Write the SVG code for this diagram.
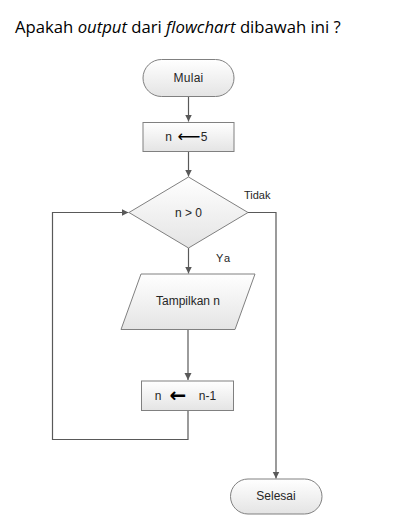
<svg xmlns="http://www.w3.org/2000/svg" width="407" height="528" viewBox="0 0 407 528">
<defs>
<linearGradient id="g" x1="0" y1="0" x2="0" y2="1">
<stop offset="0" stop-color="#ffffff"/>
<stop offset="1" stop-color="#e4e4e4"/>
</linearGradient>
<marker id="ah" markerWidth="8" markerHeight="8" refX="7" refY="4" orient="auto" markerUnits="userSpaceOnUse">
<path d="M0,0.5 L7,4 L0,7.5 Z" fill="#595959"/>
</marker>
<style>
.shape{fill:url(#g);stroke:#808080;stroke-width:1}
.lbl{font-family:"Liberation Sans",Arial,sans-serif;font-size:12px;fill:#262626;text-anchor:middle}
.side{font-family:"Liberation Sans",Arial,sans-serif;font-size:11px;fill:#262626}
.arr{font-family:"DejaVu Sans",sans-serif;fill:#000;text-anchor:middle}
.con{fill:none;stroke:#595959;stroke-width:1.2}
.title{font-family:"Open Sans",sans-serif;font-size:16.7px;fill:#000}
</style>
</defs>
<rect width="407" height="528" fill="#fff"/>
<text class="title" x="15" y="33">Apakah <tspan font-style="italic">output</tspan> dari <tspan font-style="italic">flowchart</tspan> dibawah ini ?</text>

<g id="connectors">
<path class="con" d="M188.5,96.5 V121.5" marker-end="url(#ah)"/>
<path class="con" d="M188.5,151.5 V176.5" marker-end="url(#ah)"/>
<path class="con" d="M188.5,248 V273.5" marker-end="url(#ah)"/>
<path class="con" d="M188,329.5 V380" marker-end="url(#ah)"/>
<path class="con" d="M188,410.5 V439.5 H52.5 V212.5 H128.5" marker-end="url(#ah)"/>
<path class="con" d="M248,212.5 H276 V478.5" marker-end="url(#ah)"/>
<text class="side" x="244" y="199">Tidak</text>
<text class="side" x="216" y="262" letter-spacing="1.5">Ya</text>
</g>

<g id="mulai">
<rect class="shape" x="143" y="59.5" width="91" height="37" rx="18.5"/>
<text class="lbl" x="188.5" y="82" letter-spacing="0.3">Mulai</text>
</g>

<g id="assign5">
<rect class="shape" x="143" y="122.5" width="91" height="29"/>
<text class="lbl" x="168.5" y="140.5">n</text>
<text class="arr" x="189" y="141.5" font-size="16">⟵</text>
<text class="lbl" x="204" y="140.5">5</text>
</g>

<g id="decision">
<polygon class="shape" points="188.5,177 248,212.5 188.5,248 129,212.5"/>
<text class="lbl" x="188.5" y="216.5">n &gt; 0</text>
</g>

<g id="tampil">
<polygon class="shape" points="141,274 255,274 235,329.5 121,329.5"/>
<text class="lbl" x="188" y="305">Tampilkan n</text>
</g>

<g id="decrement">
<rect class="shape" x="141.5" y="381" width="92" height="29.5"/>
<text class="lbl" x="158" y="400">n</text>
<text class="arr" x="178" y="401.5" font-size="20" font-weight="bold">←</text>
<text class="lbl" x="207.5" y="400">n-1</text>
</g>

<g id="selesai">
<rect class="shape" x="230.5" y="479" width="91.5" height="35" rx="17.5"/>
<text class="lbl" x="276" y="499.5">Selesai</text>
</g>
</svg>
